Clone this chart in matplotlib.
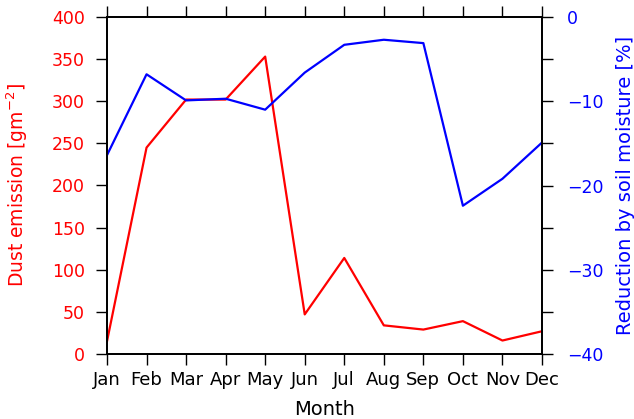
import matplotlib
matplotlib.use("Agg")
import matplotlib.pyplot as plt
from matplotlib.ticker import MultipleLocator

months = ["Jan", "Feb", "Mar", "Apr", "May", "Jun", "Jul", "Aug", "Sep", "Oct", "Nov", "Dec"]
dust_emission = [15, 245, 302, 302, 353, 47, 114, 34, 29, 39, 16, 27]
soil_reduction = [-16.4, -6.8, -9.9, -9.7, -11.0, -6.6, -3.3, -2.7, -3.1, -22.4, -19.2, -14.9]

fig = plt.figure(figsize=(6.34, 4.19), dpi=100)
ax = fig.add_axes([107/634, 1-354/419, (542-107)/634, (354-17)/419])
x = list(range(len(months)))

ax.plot(x, dust_emission, color="red", lw=1.6)
ax.set_xlim(0, 11)
ax.set_ylim(0, 400)
ax.set_xticks(x)
ax.set_xticklabels(months)
ax.yaxis.set_major_locator(MultipleLocator(50))
ax.set_ylabel(r"Dust emission [gm$^{-2}$]", color="red", fontsize=13.5, labelpad=16)
ax.set_xlabel("Month", fontsize=14, labelpad=8)
ax.tick_params(axis="y", colors="red", labelsize=12.5, direction="out", length=8, width=1, pad=8)
ax.tick_params(axis="y", which="both", color="black")
ax.tick_params(axis="x", labelsize=13, direction="out", length=8, width=1, top=True, pad=4)

ax2 = ax.twinx()
ax2.plot(x, soil_reduction, color="blue", lw=1.6)
ax2.set_ylim(-40, 0)
ax2.yaxis.set_major_locator(MultipleLocator(10))
ax2.yaxis.set_minor_locator(MultipleLocator(5))
ax2.set_ylabel("Reduction by soil moisture [%]", color="blue", fontsize=14, labelpad=9)
ax2.tick_params(axis="y", which="both", labelcolor="blue", labelsize=12.5, direction="out", length=8, width=1, color="black", pad=10)
ax2.tick_params(axis="x", top=True, length=8, width=1, direction="out")

for a in (ax, ax2):
    for s in a.spines.values():
        s.set_linewidth(1.3)

fig.savefig("out.png", dpi=100)
